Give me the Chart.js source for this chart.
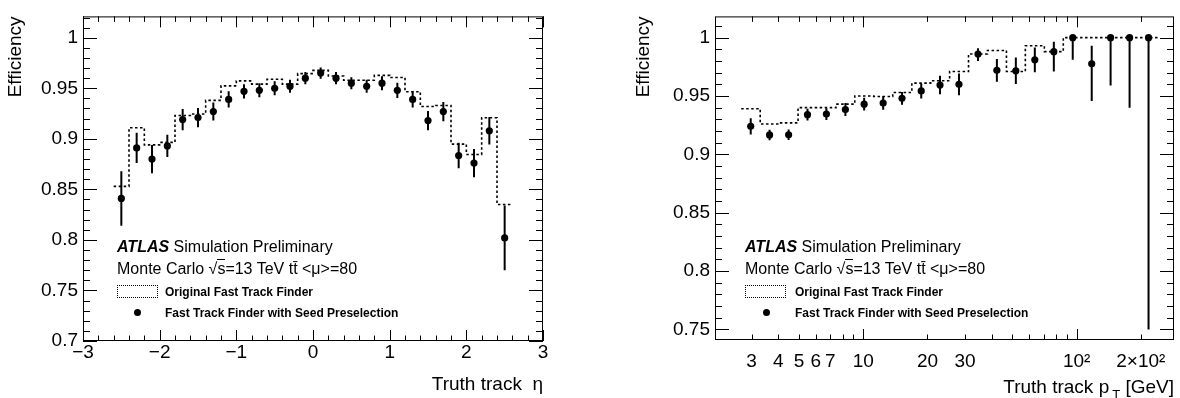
<!DOCTYPE html>
<html lang="en">
<head>
<meta charset="UTF-8">
<title>Fast Track Finder efficiency</title>
<script src="https://cdn.jsdelivr.net/npm/chart.js@4.4.0/dist/chart.umd.min.js"></script>
<style>
  html, body { margin: 0; padding: 0; background: #fff; }
  body { position: relative; width: 1180px; height: 398px; overflow: hidden;
         font-family: "Liberation Sans", Arial, Helvetica, sans-serif; color: #000; }
  canvas { position: absolute; top: 0; }
  #etaChart { left: 0; }
  #ptChart { left: 590px; }
  .txt { position: absolute; white-space: nowrap; line-height: 1; }
  .big { font-size: 16px; }
  .small { font-size: 12px; font-weight: bold; }
  .atlas { font-weight: bold; font-style: italic; }
  .sq { border-top: 1px solid #000; }
  .box { position: absolute; width: 41px; height: 13px; border: 1.5px dotted #000; box-sizing: border-box; }
  .dot { position: absolute; width: 7px; height: 7px; border-radius: 50%; background: #000; }
</style>
</head>
<body>
<canvas id="etaChart" width="590" height="398"></canvas>
<canvas id="ptChart" width="590" height="398"></canvas>

<!-- ATLAS label + legend, eta plot -->
<div class="txt big" style="left:117px; top:239px"><span class="atlas">ATLAS</span> Simulation Preliminary</div>
<div class="txt big" style="left:117px; top:261px">Monte Carlo √<span class="sq">s</span>=13 TeV tt̄ &lt;μ&gt;=80</div>
<div class="box" style="left:117px; top:285px"></div>
<div class="txt small" style="left:165px; top:286px">Original Fast Track Finder</div>
<div class="dot" style="left:134px; top:309px"></div>
<div class="txt small" style="left:165px; top:307px">Fast Track Finder with Seed Preselection</div>

<!-- ATLAS label + legend, pT plot -->
<div class="txt big" style="left:745px; top:239px"><span class="atlas">ATLAS</span> Simulation Preliminary</div>
<div class="txt big" style="left:745px; top:261px">Monte Carlo √<span class="sq">s</span>=13 TeV tt̄ &lt;μ&gt;=80</div>
<div class="box" style="left:745px; top:285px"></div>
<div class="txt small" style="left:795px; top:286px">Original Fast Track Finder</div>
<div class="dot" style="left:763px; top:309px"></div>
<div class="txt small" style="left:795px; top:307px">Fast Track Finder with Seed Preselection</div>

<script>
// ---------- efficiency vs truth eta ----------
const etaEdges = [-2.6, -2.4, -2.2, -2.0, -1.8, -1.6, -1.4, -1.2, -1.0, -0.8, -0.6, -0.4, -0.2,
                  0.0, 0.2, 0.4, 0.6, 0.8, 1.0, 1.2, 1.4, 1.6, 1.8, 2.0, 2.2, 2.4, 2.6];
const etaOriginal = [0.853, 0.911, 0.894, 0.8965, 0.923, 0.9246, 0.938, 0.9524, 0.9573, 0.9541,
                     0.9589, 0.9541, 0.9645, 0.9677, 0.9622, 0.958, 0.958, 0.9628, 0.9606, 0.9466,
                     0.932, 0.933, 0.8948, 0.8845, 0.9208, 0.835];
const etaBins = [-2.5, -2.3, -2.1, -1.9, -1.7, -1.5, -1.3, -1.1, -0.9, -0.7, -0.5, -0.3, -0.1,
                 0.1, 0.3, 0.5, 0.7, 0.9, 1.1, 1.3, 1.5, 1.7, 1.9, 2.1, 2.3, 2.5];
const etaSeeded = [0.841, 0.891, 0.880, 0.893, 0.919, 0.921, 0.927, 0.939, 0.947, 0.948,
                   0.950, 0.952, 0.960, 0.965, 0.960, 0.955, 0.952, 0.955, 0.948, 0.939,
                   0.918, 0.927, 0.8835, 0.876, 0.908, 0.802];
const etaErr = [0.027, 0.015, 0.014, 0.011, 0.0105, 0.0095, 0.009, 0.008, 0.007, 0.007,
                0.007, 0.0065, 0.006, 0.0055, 0.006, 0.006, 0.0065, 0.007, 0.0075, 0.008,
                0.0095, 0.0095, 0.0125, 0.014, 0.0137, 0.032];

const etaTicks = [-3, -2, -1, 0, 1, 2, 3];
const etaTickLabels = ['\u22123', '\u22122', '\u22121', '0', '1', '2', '3'];
const effTicksEta = [0.7, 0.75, 0.8, 0.85, 0.9, 0.95, 1];
const effLabelsEta = ['0.7', '0.75', '0.8', '0.85', '0.9', '0.95', '1'];

// ---------- efficiency vs truth pT ----------
const ptEdges = [2.68, 3.29, 4.03, 4.95, 6.07, 7.45, 9.13, 11.2, 13.75, 16.9, 20.7, 25.4,
                 31.15, 38.2, 46.9, 57.5, 70.6, 86.6, 106.2, 130.3, 159.9, 196.2, 240.7];
const ptOriginal = [0.939, 0.926, 0.927, 0.940, 0.940, 0.943, 0.950, 0.9496, 0.953, 0.961, 0.963,
                    0.971, 0.986, 0.989, 0.971, 0.993, 0.988, 1.0, 1.0, 1.0, 1.0, 1.0];
const ptBins = [2.97, 3.64, 4.47, 5.48, 6.72, 8.25, 10.1, 12.4, 15.2, 18.7, 22.9, 28.1,
                34.5, 42.3, 51.9, 63.7, 78.2, 95.9, 117.7, 144.3, 177.1, 217.3];
const ptSeeded = [0.924, 0.9166, 0.9168, 0.934, 0.9345, 0.9384, 0.943, 0.944, 0.948, 0.9543, 0.9594,
                  0.960, 0.986, 0.972, 0.9716, 0.981, 0.988, 1.0, 0.9776, 1.0, 1.0, 1.0];
const ptErrLow = [0.007, 0.0045, 0.0045, 0.005, 0.005, 0.0055, 0.0055, 0.0057, 0.0055, 0.0065, 0.008,
                  0.0093, 0.006, 0.0098, 0.0113, 0.0106, 0.017, 0.019, 0.032, 0.041, 0.060, 0.25];
const ptErrHigh = [0.007, 0.0045, 0.0045, 0.005, 0.005, 0.0055, 0.0055, 0.0057, 0.0055, 0.0065, 0.008,
                   0.0093, 0.005, 0.0098, 0.0113, 0.0106, 0.0084, 0, 0.0154, 0, 0, 0];

const ptTicks = [3, 4, 5, 6, 7, 10, 20, 30, 100, 200];
const ptTickLabels = ['3', '4', '5', '6', '7', '10', '20', '30', '10\u00B2', '2\u00D710\u00B2'];
const ptMajor = [10, 100];
const ptMinor = [3, 4, 5, 6, 7, 8, 9, 20, 30, 40, 50, 60, 70, 80, 90, 200];
const effTicksPt = [0.75, 0.8, 0.85, 0.9, 0.95, 1];
const effLabelsPt = ['0.75', '0.8', '0.85', '0.9', '0.95', '1'];

const FONT = '"Liberation Sans", Arial, Helvetica, sans-serif';

// tick positions for the ROOT style minor ticks
const steps = (from, to, step) => {
  const out = [];
  for (let v = from; v <= to + 1e-9; v += step) out.push(Math.round(v * 1000) / 1000);
  return out;
};

// histogram outline: one point per bin edge, last bin value repeated
const stepPoints = (edges, vals) => edges.map((e, i) => ({ x: e, y: vals[Math.min(i, vals.length - 1)] }));
const points = (xs, ys) => xs.map((x, i) => ({ x, y: ys[i] }));

// frame, inward ticks on all four sides, error bars, x title with subscript
const rootStyle = (cfg) => ({
  id: 'rootStyle',
  beforeDatasetsDraw(chart) {
    const { ctx, chartArea: a, scales: { x, y } } = chart;
    ctx.save();
    ctx.beginPath();
    ctx.rect(a.left, a.top, a.right - a.left, a.bottom - a.top);
    ctx.clip();
    ctx.strokeStyle = '#000';
    ctx.lineWidth = 2;
    chart.data.datasets.forEach(ds => {
      if (!ds.errLow) return;
      ds.data.forEach((p, i) => {
        const px = x.getPixelForValue(p.x);
        ctx.beginPath();
        ctx.moveTo(px, y.getPixelForValue(p.y + ds.errHigh[i]));
        ctx.lineTo(px, y.getPixelForValue(p.y - ds.errLow[i]));
        ctx.stroke();
      });
    });
    ctx.restore();
  },
  afterDraw(chart) {
    const { ctx, chartArea: a, scales: { x, y } } = chart;
    ctx.save();
    ctx.strokeStyle = '#000';
    ctx.lineWidth = 1;
    ctx.strokeRect(a.left + 0.5, a.top + 0.5, a.right - a.left - 1, a.bottom - a.top - 1);
    const seg = (x1, y1, x2, y2) => { ctx.beginPath(); ctx.moveTo(x1, y1); ctx.lineTo(x2, y2); ctx.stroke(); };
    const xTick = (v, len) => {
      if (v < x.min || v > x.max) return;
      const px = Math.round(x.getPixelForValue(v)) + 0.5;
      seg(px, a.bottom, px, a.bottom - len);
      seg(px, a.top, px, a.top + len);
    };
    const yTick = (v, len) => {
      if (v < y.min || v > y.max) return;
      const py = Math.round(y.getPixelForValue(v)) + 0.5;
      seg(a.left, py, a.left + len, py);
      seg(a.right, py, a.right - len, py);
    };
    cfg.xMinor.forEach(v => xTick(v, 5.5));
    cfg.xMajor.forEach(v => xTick(v, 11));
    cfg.yMinor.forEach(v => yTick(v, 7));
    cfg.yMajor.forEach(v => yTick(v, 14));

    // x axis title, right aligned on the frame
    ctx.fillStyle = '#000';
    ctx.textBaseline = 'alphabetic';
    ctx.textAlign = 'left';
    let right = a.right;
    for (let i = cfg.title.length - 1; i >= 0; i--) {
      const part = cfg.title[i];
      ctx.font = (part.sub ? '13px ' : '19px ') + FONT;
      const w = ctx.measureText(part.text).width;
      right -= w;
      ctx.fillText(part.text, right, cfg.titleBaseline + (part.sub ? 6 : 0));
      if (part.sub) right -= 3;
    }
    ctx.restore();
  }
});

const tickFont = { family: FONT, size: 19 };

const baseOptions = (xScale, yScale, padding) => ({
  responsive: false,
  animation: false,
  layout: { padding },
  plugins: { legend: { display: false }, tooltip: { enabled: false } },
  scales: { x: xScale, y: yScale }
});

const yScale = (min, max, width, ticks, labels) => ({
  type: 'linear', min, max,
  afterFit: s => { s.width = width; },
  afterBuildTicks: s => { s.ticks = ticks.map(v => ({ value: v })); },
  ticks: { callback: (v, i) => labels[i], font: tickFont, color: '#000', padding: 5, autoSkip: false },
  grid: { display: false, drawTicks: false },
  border: { display: false },
  title: { display: true, text: 'Efficiency', align: 'end', color: '#000',
           font: { family: FONT, size: 19 }, padding: { top: 4, bottom: 0 } }
});

// ---------- left chart ----------
new Chart(document.getElementById('etaChart'), {
  type: 'scatter',
  data: {
    datasets: [
      { label: 'Fast Track Finder with Seed Preselection', data: points(etaBins, etaSeeded),
        errLow: etaErr, errHigh: etaErr,
        pointRadius: 3.6, pointBackgroundColor: '#000', pointBorderWidth: 0 },
      { type: 'line', label: 'Original Fast Track Finder', data: stepPoints(etaEdges, etaOriginal),
        stepped: true, borderColor: '#000', borderWidth: 1.6, borderDash: [2.5, 2.5],
        pointRadius: 0, fill: false }
    ]
  },
  options: baseOptions({
    type: 'linear', min: -3, max: 3,
    afterFit: s => { s.height = 57; },
    afterBuildTicks: s => { s.ticks = etaTicks.map(v => ({ value: v })); },
    ticks: { callback: (v, i) => etaTickLabels[i], font: tickFont, color: '#000', padding: 0,
             maxRotation: 0, autoSkip: false },
    grid: { display: false, drawTicks: false },
    border: { display: false }
  }, yScale(0.7, 1.0211, 83, effTicksEta, effLabelsEta), { top: 10, right: 47, left: 0, bottom: 0 }),
  plugins: [rootStyle({
    xMajor: etaTicks, xMinor: steps(-3, 3, 0.2),
    yMajor: effTicksEta, yMinor: steps(0.7, 1.02, 0.01),
    title: [{ text: 'Truth track  \u03B7' }], titleBaseline: 390
  })]
});

// ---------- right chart ----------
new Chart(document.getElementById('ptChart'), {
  type: 'scatter',
  data: {
    datasets: [
      { label: 'Fast Track Finder with Seed Preselection', data: points(ptBins, ptSeeded),
        errLow: ptErrLow, errHigh: ptErrHigh,
        pointRadius: 3.6, pointBackgroundColor: '#000', pointBorderWidth: 0 },
      { type: 'line', label: 'Original Fast Track Finder', data: stepPoints(ptEdges, ptOriginal),
        stepped: true, borderColor: '#000', borderWidth: 1.6, borderDash: [2.5, 2.5],
        pointRadius: 0, fill: false }
    ]
  },
  options: baseOptions({
    type: 'logarithmic', min: 2.02, max: 286,
    afterFit: s => { s.height = 58; },
    afterBuildTicks: s => { s.ticks = ptTicks.map(v => ({ value: v })); },
    ticks: { callback: (v, i) => ptTickLabels[i], font: tickFont, color: '#000', padding: 10,
             maxRotation: 0, autoSkip: false },
    grid: { display: false, drawTicks: false },
    border: { display: false }
  }, yScale(0.7409, 1.0182, 87, effTicksPt, effLabelsPt), { top: 10, right: 6, left: 38, bottom: 0 }),
  plugins: [rootStyle({
    xMajor: ptMajor, xMinor: ptMinor,
    yMajor: effTicksPt, yMinor: steps(0.75, 1.01, 0.01),
    title: [{ text: 'Truth track p' }, { text: 'T', sub: true }, { text: ' [GeV]' }], titleBaseline: 393
  })]
});
</script>
</body>
</html>
